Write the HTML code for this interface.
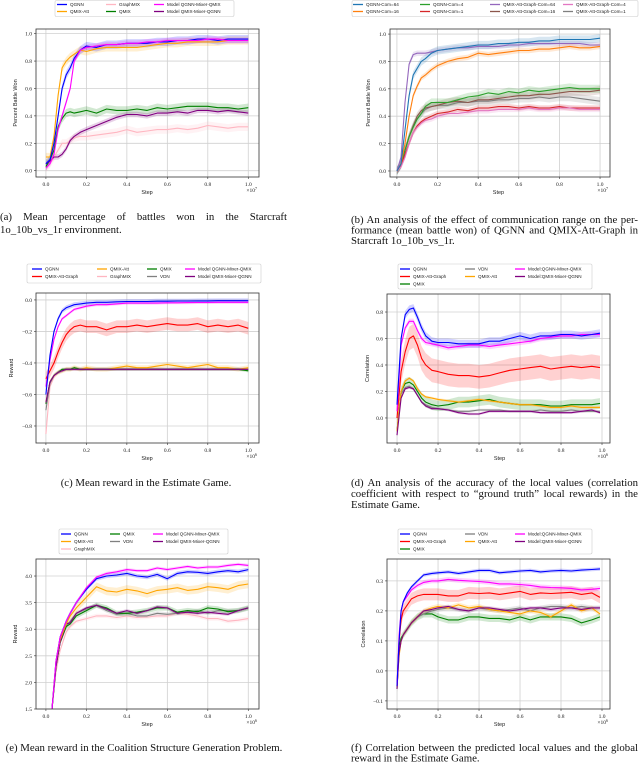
<!DOCTYPE html>
<html><head><meta charset="utf-8"><style>
html,body{margin:0;padding:0;background:#fff;}
svg{display:block;font-family:"Liberation Serif",serif;}
</style></head><body>
<svg id="fig" width="640" height="765" viewBox="0 0 640 765" xmlns="http://www.w3.org/2000/svg"></svg>
<script>
// ---------- DATA ----------
const xA = [0,0.02,0.04,0.06,0.08,0.1,0.12,0.14,0.17,0.2,0.25,0.3,0.35,0.4,0.45,0.5,0.55,0.6,0.65,0.7,0.75,0.8,0.85,0.9,0.95,1.0];
const aQGNN = [0.05,0.08,0.2,0.4,0.6,0.7,0.75,0.82,0.88,0.91,0.9,0.92,0.92,0.93,0.93,0.93,0.94,0.94,0.95,0.95,0.96,0.96,0.95,0.96,0.96,0.96];
const aQMIXAtt = [0.1,0.1,0.25,0.55,0.75,0.8,0.83,0.85,0.88,0.87,0.89,0.9,0.9,0.9,0.9,0.91,0.92,0.93,0.93,0.94,0.94,0.94,0.94,0.95,0.95,0.95];
const aGraphMIX = [0.02,0.05,0.1,0.15,0.2,0.2,0.22,0.24,0.25,0.25,0.26,0.27,0.28,0.3,0.28,0.29,0.3,0.3,0.31,0.3,0.31,0.33,0.32,0.31,0.32,0.32];
const aMixQMIX = [0.02,0.05,0.12,0.3,0.4,0.5,0.6,0.8,0.88,0.9,0.91,0.92,0.92,0.93,0.93,0.94,0.94,0.95,0.95,0.95,0.95,0.96,0.96,0.95,0.95,0.95];
const aQMIX = [0.03,0.08,0.15,0.32,0.38,0.42,0.43,0.42,0.43,0.44,0.42,0.45,0.44,0.44,0.45,0.44,0.46,0.45,0.46,0.47,0.47,0.47,0.46,0.46,0.45,0.46];
const aMixQGNN = [0.05,0.07,0.1,0.1,0.12,0.16,0.22,0.25,0.28,0.3,0.33,0.36,0.39,0.41,0.41,0.4,0.42,0.42,0.43,0.42,0.44,0.44,0.43,0.44,0.43,0.42];

const bCom64 = [0,0.05,0.3,0.55,0.7,0.75,0.8,0.82,0.86,0.88,0.89,0.9,0.91,0.92,0.92,0.93,0.93,0.94,0.94,0.95,0.95,0.96,0.96,0.96,0.96,0.97];
const bCom16 = [0,0.05,0.2,0.4,0.55,0.62,0.68,0.7,0.74,0.77,0.8,0.82,0.83,0.86,0.85,0.86,0.87,0.88,0.88,0.89,0.89,0.9,0.91,0.9,0.9,0.91];
const bCom4 = [0,0.05,0.15,0.25,0.32,0.38,0.42,0.47,0.5,0.5,0.5,0.52,0.54,0.55,0.57,0.56,0.58,0.57,0.59,0.58,0.59,0.6,0.61,0.6,0.6,0.6];
const bCom1 = [0,0.04,0.12,0.2,0.28,0.33,0.36,0.38,0.4,0.42,0.43,0.45,0.44,0.46,0.46,0.47,0.47,0.46,0.47,0.46,0.46,0.47,0.46,0.46,0.46,0.46];
const bAtt64 = [0,0.1,0.5,0.78,0.85,0.86,0.86,0.86,0.87,0.88,0.89,0.9,0.9,0.91,0.91,0.91,0.92,0.92,0.93,0.93,0.93,0.93,0.93,0.93,0.92,0.92];
const bAtt16 = [0,0.05,0.15,0.25,0.33,0.4,0.44,0.46,0.47,0.48,0.5,0.51,0.5,0.52,0.52,0.53,0.54,0.55,0.55,0.56,0.56,0.57,0.58,0.58,0.58,0.59];
const bAtt4 = [0,0.03,0.1,0.2,0.28,0.32,0.35,0.37,0.38,0.4,0.42,0.42,0.43,0.44,0.44,0.45,0.45,0.45,0.46,0.45,0.45,0.46,0.46,0.45,0.45,0.45];
const bAtt1 = [0,0.05,0.15,0.25,0.33,0.38,0.42,0.45,0.47,0.48,0.48,0.5,0.5,0.51,0.51,0.52,0.52,0.53,0.53,0.54,0.53,0.54,0.54,0.53,0.52,0.51];

const cQGNN = [-0.6,-0.35,-0.2,-0.12,-0.07,-0.05,-0.04,-0.03,-0.025,-0.02,-0.015,-0.015,-0.012,-0.01,-0.01,-0.01,-0.008,-0.008,-0.007,-0.007,-0.006,-0.006,-0.005,-0.005,-0.005,-0.005];
const cMixQMIX = [-0.55,-0.38,-0.25,-0.17,-0.12,-0.1,-0.08,-0.06,-0.05,-0.04,-0.03,-0.03,-0.025,-0.02,-0.02,-0.02,-0.02,-0.018,-0.018,-0.017,-0.016,-0.016,-0.015,-0.015,-0.015,-0.015];
const cAttGraph = [-0.5,-0.45,-0.4,-0.33,-0.27,-0.22,-0.19,-0.17,-0.16,-0.17,-0.17,-0.19,-0.17,-0.17,-0.16,-0.17,-0.16,-0.15,-0.16,-0.16,-0.15,-0.17,-0.16,-0.17,-0.16,-0.18];
const cQMIXAtt = [-0.65,-0.52,-0.48,-0.46,-0.45,-0.44,-0.44,-0.43,-0.44,-0.43,-0.44,-0.44,-0.43,-0.42,-0.43,-0.43,-0.42,-0.41,-0.42,-0.43,-0.42,-0.41,-0.43,-0.43,-0.44,-0.43];
const cQMIX = [-0.66,-0.52,-0.48,-0.46,-0.44,-0.44,-0.44,-0.43,-0.44,-0.44,-0.44,-0.44,-0.44,-0.44,-0.44,-0.44,-0.44,-0.44,-0.44,-0.44,-0.44,-0.44,-0.44,-0.44,-0.44,-0.45];
const cVDN = [-0.7,-0.53,-0.48,-0.46,-0.45,-0.44,-0.44,-0.44,-0.44,-0.44,-0.44,-0.44,-0.44,-0.44,-0.44,-0.44,-0.44,-0.44,-0.44,-0.44,-0.44,-0.44,-0.44,-0.44,-0.44,-0.44];
const cGraphMIX = [-0.85,-0.55,-0.49,-0.46,-0.45,-0.44,-0.44,-0.44,-0.44,-0.44,-0.44,-0.44,-0.44,-0.44,-0.44,-0.44,-0.44,-0.44,-0.44,-0.44,-0.44,-0.44,-0.44,-0.44,-0.44,-0.44];
const cMixQGNN = [-0.65,-0.52,-0.48,-0.46,-0.45,-0.44,-0.44,-0.44,-0.44,-0.44,-0.44,-0.44,-0.44,-0.44,-0.44,-0.44,-0.44,-0.44,-0.44,-0.44,-0.44,-0.44,-0.44,-0.44,-0.44,-0.44];

const xD = [0,0.02,0.04,0.06,0.08,0.1,0.12,0.14,0.17,0.2,0.25,0.3,0.35,0.4,0.45,0.5,0.55,0.6,0.65,0.7,0.75,0.8,0.85,0.9,0.95,0.99];
const dQGNN = [0.1,0.6,0.78,0.82,0.83,0.76,0.68,0.62,0.58,0.57,0.57,0.56,0.56,0.56,0.58,0.58,0.6,0.62,0.6,0.62,0.62,0.63,0.63,0.62,0.63,0.64];
const dMixQMIX = [0.05,0.55,0.68,0.73,0.73,0.66,0.6,0.57,0.56,0.55,0.53,0.54,0.55,0.55,0.54,0.55,0.56,0.57,0.58,0.6,0.61,0.62,0.62,0.63,0.63,0.63];
const dAttGraph = [0,0.35,0.5,0.6,0.62,0.55,0.45,0.4,0.36,0.35,0.33,0.32,0.32,0.31,0.32,0.34,0.36,0.37,0.38,0.39,0.37,0.38,0.39,0.38,0.39,0.38];
const dQMIXAtt = [-0.1,0.2,0.28,0.3,0.28,0.22,0.18,0.16,0.15,0.14,0.13,0.12,0.13,0.14,0.13,0.12,0.11,0.1,0.1,0.09,0.08,0.08,0.09,0.08,0.08,0.08];
const dQMIX = [-0.1,0.2,0.26,0.27,0.25,0.2,0.15,0.12,0.1,0.09,0.1,0.12,0.12,0.13,0.14,0.12,0.11,0.1,0.1,0.1,0.09,0.09,0.1,0.1,0.1,0.11];
const dVDN = [-0.1,0.18,0.23,0.24,0.22,0.17,0.12,0.1,0.08,0.07,0.06,0.05,0.05,0.06,0.06,0.06,0.05,0.05,0.05,0.06,0.05,0.05,0.06,0.05,0.05,0.05];
const dMixQGNN = [-0.13,0.15,0.22,0.23,0.22,0.17,0.12,0.09,0.07,0.07,0.06,0.04,0.03,0.03,0.05,0.05,0.05,0.05,0.05,0.04,0.04,0.04,0.04,0.05,0.06,0.04];

const xE = [0.03,0.05,0.07,0.1,0.12,0.15,0.2,0.25,0.3,0.35,0.4,0.45,0.5,0.55,0.6,0.65,0.7,0.75,0.8,0.85,0.9,0.95,1.0];
const eQGNN = [1.5,2.4,2.85,3.15,3.3,3.5,3.75,3.95,4.0,4.02,4.05,4.0,3.98,4.03,3.95,4.05,4.08,4.07,4.05,4.08,4.1,4.08,4.12];
const eMixQMIX = [1.5,2.4,2.85,3.15,3.3,3.5,3.78,3.98,4.05,4.08,4.12,4.1,4.1,4.15,4.12,4.15,4.18,4.15,4.17,4.17,4.2,4.22,4.2];
const eQMIXAtt = [1.5,2.4,2.8,3.1,3.25,3.4,3.6,3.8,3.72,3.7,3.75,3.72,3.67,3.73,3.75,3.78,3.73,3.75,3.8,3.78,3.75,3.82,3.85];
const eQMIX = [1.5,2.3,2.75,3.05,3.1,3.25,3.35,3.45,3.4,3.3,3.3,3.32,3.35,3.4,3.4,3.32,3.35,3.33,3.4,3.38,3.33,3.35,3.4];
const eVDN = [1.5,2.3,2.75,3.05,3.15,3.3,3.38,3.45,3.35,3.28,3.3,3.25,3.25,3.3,3.28,3.3,3.32,3.35,3.3,3.35,3.35,3.35,3.4];
const eMixQGNN = [1.5,2.3,2.75,3.1,3.12,3.3,3.4,3.45,3.38,3.3,3.35,3.3,3.35,3.42,3.4,3.3,3.32,3.3,3.32,3.3,3.28,3.35,3.4];
const eGraphMIX = [1.5,2.2,2.6,2.95,3.05,3.15,3.2,3.25,3.25,3.22,3.25,3.22,3.23,3.25,3.25,3.3,3.28,3.25,3.2,3.2,3.15,3.17,3.2];

const xF = [0,0.01,0.02,0.03,0.05,0.07,0.1,0.13,0.17,0.2,0.25,0.3,0.35,0.4,0.45,0.5,0.55,0.6,0.65,0.7,0.75,0.8,0.85,0.9,0.95,0.99];
const fQGNN = [-0.05,0.1,0.2,0.23,0.26,0.28,0.3,0.32,0.325,0.327,0.33,0.325,0.33,0.335,0.335,0.327,0.33,0.333,0.335,0.33,0.333,0.335,0.333,0.336,0.338,0.34];
const fMixQMIX = [-0.05,0.12,0.2,0.23,0.25,0.27,0.285,0.295,0.3,0.3,0.305,0.302,0.3,0.298,0.295,0.29,0.29,0.288,0.285,0.28,0.278,0.277,0.275,0.27,0.272,0.275];
const fAttGraph = [-0.05,0.1,0.17,0.2,0.22,0.24,0.25,0.255,0.255,0.255,0.25,0.25,0.26,0.258,0.26,0.255,0.26,0.265,0.255,0.26,0.258,0.26,0.262,0.255,0.26,0.245];
const fQMIXAtt = [-0.05,0.05,0.1,0.12,0.14,0.16,0.18,0.2,0.21,0.215,0.21,0.22,0.21,0.215,0.205,0.2,0.195,0.19,0.2,0.195,0.18,0.2,0.22,0.2,0.21,0.19];
const fQMIX = [-0.06,0.08,0.11,0.12,0.14,0.16,0.18,0.19,0.19,0.18,0.17,0.17,0.18,0.18,0.175,0.175,0.17,0.18,0.17,0.18,0.18,0.18,0.175,0.16,0.17,0.18];
const fVDN = [-0.05,0.06,0.1,0.12,0.14,0.16,0.18,0.19,0.2,0.205,0.21,0.205,0.2,0.21,0.205,0.2,0.205,0.21,0.2,0.21,0.215,0.215,0.21,0.215,0.21,0.21];
const fMixQGNN = [-0.06,0.06,0.1,0.12,0.14,0.16,0.18,0.2,0.205,0.21,0.215,0.205,0.2,0.21,0.21,0.205,0.2,0.205,0.21,0.21,0.205,0.21,0.21,0.205,0.21,0.21];

const xTicks = [0,0.2,0.4,0.6,0.8,1.0];
const yTicksA = [0,0.2,0.4,0.6,0.8,1.0];
const yTicksC = [-0.8,-0.6,-0.4,-0.2,0.0];
const yTicksD = [0,0.2,0.4,0.6,0.8];
const yTicksE = [1.5,2.0,2.5,3.0,3.5,4.0];
const yTicksF = [-0.1,0,0.1,0.2,0.3];

// ---------- DRAWING ----------
const NS = "http://www.w3.org/2000/svg";
const svg = document.getElementById('fig');
function mk(tag, attrs, parent){
  const e = document.createElementNS(NS, tag);
  for (const k in attrs) e.setAttribute(k, attrs[k]);
  (parent||svg).appendChild(e);
  return e;
}
function fmt(v){ const s = v.toFixed(1); return v < 0 ? '\u2212' + s.slice(1) : s; }

function chart(id, c){
  const g = mk('g', {});
  
  
  const sx = v => c.L + (v - c.xmin) / (c.xmax - c.xmin) * (c.R - c.L);
  const sy = v => c.B - (v - c.ymin) / (c.ymax - c.ymin) * (c.B - c.T);
  mk('rect', {x:c.L, y:c.T, width:c.R-c.L, height:c.B-c.T, fill:'#fff'}, g);
  c.xticks.forEach(t => {
    const gl = mk('line', {x1:sx(t), x2:sx(t), y1:c.T, y2:c.B, stroke:'#d0d0d0', 'stroke-width':0.8}, g);
    
    
    const tl = mk('text', {x:sx(t), y:c.B+9, 'font-size':5.5, 'text-anchor':'middle', fill:'#222'}, g);
    tl.textContent = fmt(t);
    
    
    mk('line', {x1:sx(t), x2:sx(t), y1:c.B, y2:c.B+2, stroke:'#333', 'stroke-width':0.6}, g);
  });
  c.yticks.forEach(t => {
    const gl = mk('line', {x1:c.L, x2:c.R, y1:sy(t), y2:sy(t), stroke:'#d0d0d0', 'stroke-width':0.8}, g);
    
    
    const tl = mk('text', {x:c.L-4, y:sy(t)+2, 'font-size':5.5, 'text-anchor':'end', fill:'#222'}, g);
    tl.textContent = fmt(t);
    
    
    mk('line', {x1:c.L-2, x2:c.L, y1:sy(t), y2:sy(t), stroke:'#333', 'stroke-width':0.6}, g);
  });
  const clipId = 'clip-' + id;
  const cp = mk('clipPath', {id:clipId}, g);
  mk('rect', {x:c.L, y:c.T, width:c.R-c.L, height:c.B-c.T}, cp);
  const pg = mk('g', {'clip-path':'url(#'+clipId+')'}, g);
  c.series.forEach(s => {
    if (!s.band) return;
    let d = '';
    s.x.forEach((xv,i) => { d += (i?'L':'M') + sx(xv).toFixed(1) + ',' + sy(s.y[i]+s.band).toFixed(1); });
    for (let i = s.x.length-1; i >= 0; i--) d += 'L' + sx(s.x[i]).toFixed(1) + ',' + sy(s.y[i]-s.band).toFixed(1);
    const b = mk('path', {d:d+'Z', fill:s.color, 'fill-opacity':0.18, stroke:'none'}, pg);
    
    
  });
  c.series.forEach(s => {
    let d = '';
    s.x.forEach((xv,i) => { d += (i?'L':'M') + sx(xv).toFixed(1) + ',' + sy(s.y[i]).toFixed(1); });
    const p = mk('path', {d:d, fill:'none', stroke:s.color, 'stroke-width':1.1, 'stroke-linejoin':'round'}, pg);
    
    
  });
  mk('rect', {x:c.L, y:c.T, width:c.R-c.L, height:c.B-c.T, fill:'none', stroke:'#333', 'stroke-width':0.8}, g);
  const xl = mk('text', {x:(sx(0)+sx(1))/2, y:c.B+17, 'font-size':5.5, 'text-anchor':'middle', fill:'#222', 'font-family':'Liberation Sans, sans-serif'}, g);
  xl.textContent = 'Step';
  
  
  const ex = mk('text', {x:c.R-2, y:c.B+15, 'font-size':5.5, 'text-anchor':'end', fill:'#222'}, g);
  ex.innerHTML = '×10<tspan dy="-2" font-size="4">' + c.exp + '</tspan>';
  
  
  const yc = (c.T+c.B)/2;
  const yl = mk('text', {x:c.ylx, y:yc, 'font-size':5.5, 'text-anchor':'middle', fill:'#222', transform:'rotate(-90 '+c.ylx+' '+yc+')', 'font-family':'Liberation Sans, sans-serif'}, g);
  yl.textContent = c.ylabel;
  
  
  const lg = mk('g', {}, g);
  
  
  mk('rect', {x:c.leg.x, y:c.leg.y, width:c.leg.w, height:c.leg.h, rx:1.5, fill:'#fff', stroke:'#ccc', 'stroke-width':0.6}, lg);
  c.series.forEach(s => {
    const lx = c.leg.cols[s.col], ly = c.leg.rows[s.row];
    const ent = mk('g', {}, lg);
    
    
    mk('line', {x1:lx, x2:lx+10, y1:ly, y2:ly, stroke:s.color, 'stroke-width':1.3}, ent);
    const t = mk('text', {x:lx+13, y:ly+1.6, 'font-size':4.6, fill:'#222', 'font-family':'Liberation Sans, sans-serif'}, ent);
    t.textContent = s.name;
  });
}

const BLUE='#0000ff', ORANGE='#ffa500', PINK='#ffb6c1', MAG='#ff00ff', GREEN='#008000', PURP='#800080', RED='#ff0000', GRAY='#808080';

chart('chart-a-battles-won', {L:36,R:259,T:29,B:177,xmin:-0.049,xmax:1.053,ymin:-0.046,ymax:1.034,
  xticks:xTicks, yticks:yTicksA, ylabel:'Percent Battle Won', ylx:17, exp:'7',
  leg:{x:55,y:0.5,w:179,h:16,cols:[57,106,154],rows:[4.5,11.5]},
  series:[
    {name:'GraphMIX',x:xA,y:aGraphMIX,color:PINK,col:1,row:0,band:0.03},
    {name:'QMIX',x:xA,y:aQMIX,color:GREEN,col:1,row:1,band:0.03},
    {name:'Model QMIX-Mixer-QGNN',x:xA,y:aMixQGNN,color:PURP,col:2,row:1,band:0.02},
    {name:'QMIX-Att',x:xA,y:aQMIXAtt,color:ORANGE,col:0,row:1,band:0.03},
    {name:'QGNN',x:xA,y:aQGNN,color:BLUE,col:0,row:0,band:0.03},
    {name:'Model QGNN-Mixer-QMIX',x:xA,y:aMixQMIX,color:MAG,col:2,row:0,band:0.02}
  ]});

chart('chart-b-communication-range', {L:390,R:610,T:29,B:177,xmin:-0.034,xmax:1.049,ymin:-0.044,ymax:1.037,
  xticks:xTicks, yticks:yTicksA, ylabel:'Percent Battle Won', ylx:370, exp:'7',
  leg:{x:352,y:0.5,w:286,h:16,cols:[353,420,490,563],rows:[4.5,11.5]},
  series:[
    {name:'QMIX-Att-Graph-Com=1',x:xA,y:bAtt1,color:'#7f7f7f',col:3,row:1,band:0.03},
    {name:'QMIX-Att-Graph-Com=16',x:xA,y:bAtt16,color:'#8c564b',col:2,row:1,band:0.03},
    {name:'QGNN-Com=4',x:xA,y:bCom4,color:'#2ca02c',col:1,row:0,band:0.03},
    {name:'QGNN-Com=1',x:xA,y:bCom1,color:'#d62728',col:1,row:1,band:0.02},
    {name:'QMIX-Att-Graph-Com=4',x:xA,y:bAtt4,color:'#e377c2',col:3,row:0,band:0.02},
    {name:'QGNN-Com=16',x:xA,y:bCom16,color:'#ff7f0e',col:0,row:1,band:0.02},
    {name:'QMIX-Att-Graph-Com=64',x:xA,y:bAtt64,color:'#9467bd',col:2,row:0,band:0.02},
    {name:'QGNN-Com=64',x:xA,y:bCom64,color:'#1f77b4',col:0,row:0,band:0.03}
  ]});

chart('chart-c-estimate-reward', {L:36,R:259,T:293,B:443,xmin:-0.049,xmax:1.053,ymin:-0.908,ymax:0.044,
  xticks:xTicks, yticks:yTicksC, ylabel:'Reward', ylx:13, exp:'6',
  leg:{x:27,y:264,w:234,h:19,cols:[32,97,147,185],rows:[269,276.5]},
  series:[
    {name:'GraphMIX',x:xA,y:cGraphMIX,color:PINK,col:1,row:1,band:0.01},
    {name:'QMIX-Att',x:xA,y:cQMIXAtt,color:ORANGE,col:1,row:0,band:0.015},
    {name:'QMIX',x:xA,y:cQMIX,color:GREEN,col:2,row:0,band:0.01},
    {name:'VDN',x:xA,y:cVDN,color:GRAY,col:2,row:1,band:0.01},
    {name:'Model QMIX-Mixer-QGNN',x:xA,y:cMixQGNN,color:PURP,col:3,row:1,band:0.01},
    {name:'QMIX-Att-Graph',x:xA,y:cAttGraph,color:RED,col:0,row:1,band:0.04},
    {name:'Model QGNN-Mixer-QMIX',x:xA,y:cMixQMIX,color:MAG,col:3,row:0,band:0.01},
    {name:'QGNN',x:xA,y:cQGNN,color:BLUE,col:0,row:0,band:0.015}
  ]});

chart('chart-d-local-value-accuracy', {L:387,R:610,T:294,B:443,xmin:-0.049,xmax:1.039,ymin:-0.189,ymax:0.936,
  xticks:xTicks, yticks:yTicksD, ylabel:'Correlation', ylx:369, exp:'6',
  leg:{x:398,y:264,w:194,h:25,cols:[400,465,515],rows:[269,276.5,284]},
  series:[
    {name:'QMIX',x:xD,y:dQMIX,color:GREEN,col:0,row:2,band:0.04},
    {name:'VDN',x:xD,y:dVDN,color:GRAY,col:1,row:0,band:0.01},
    {name:'QMIX-Att',x:xD,y:dQMIXAtt,color:ORANGE,col:1,row:1,band:0.01},
    {name:'Model:QMIX-Mixer-QGNN',x:xD,y:dMixQGNN,color:PURP,col:2,row:1,band:0.01},
    {name:'QMIX-Att-Graph',x:xD,y:dAttGraph,color:RED,col:0,row:1,band:0.09},
    {name:'Model:QGNN-Mixer-QMIX',x:xD,y:dMixQMIX,color:MAG,col:2,row:0,band:0.02},
    {name:'QGNN',x:xD,y:dQGNN,color:BLUE,col:0,row:0,band:0.03}
  ]});

chart('chart-e-coalition-reward', {L:36,R:259,T:559,B:709,xmin:-0.049,xmax:1.053,ymin:1.5,ymax:4.32,
  xticks:xTicks, yticks:yTicksE, ylabel:'Reward', ylx:17, exp:'6',
  leg:{x:59,y:529,w:169,h:25,cols:[61,110,153],rows:[534,541.5,549]},
  series:[
    {name:'GraphMIX',x:xE,y:eGraphMIX,color:PINK,col:0,row:2,band:0.04},
    {name:'VDN',x:xE,y:eVDN,color:GRAY,col:1,row:1,band:0.04},
    {name:'QMIX',x:xE,y:eQMIX,color:GREEN,col:1,row:0,band:0.05},
    {name:'Model QMIX-Mixer-QGNN',x:xE,y:eMixQGNN,color:PURP,col:2,row:1,band:0.03},
    {name:'QMIX-Att',x:xE,y:eQMIXAtt,color:ORANGE,col:0,row:1,band:0.08},
    {name:'QGNN',x:xE,y:eQGNN,color:BLUE,col:0,row:0,band:0.04},
    {name:'Model QGNN-Mixer-QMIX',x:xE,y:eMixQMIX,color:MAG,col:2,row:0,band:0.03}
  ]});

chart('chart-f-global-correlation', {L:387,R:610,T:559,B:709,xmin:-0.049,xmax:1.039,ymin:-0.127,ymax:0.373,
  xticks:xTicks, yticks:yTicksF, ylabel:'Correlation', ylx:365, exp:'6',
  leg:{x:398,y:529,w:194,h:25,cols:[400,465,515],rows:[534,541.5,549]},
  series:[
    {name:'QMIX',x:xF,y:fQMIX,color:GREEN,col:0,row:2,band:0.012},
    {name:'VDN',x:xF,y:fVDN,color:GRAY,col:1,row:0,band:0.008},
    {name:'QMIX-Att',x:xF,y:fQMIXAtt,color:ORANGE,col:1,row:1,band:0.008},
    {name:'Model:QMIX-Mixer-QGNN',x:xF,y:fMixQGNN,color:PURP,col:2,row:1,band:0.006},
    {name:'QMIX-Att-Graph',x:xF,y:fAttGraph,color:RED,col:0,row:1,band:0.02},
    {name:'Model:QGNN-Mixer-QMIX',x:xF,y:fMixQMIX,color:MAG,col:2,row:0,band:0.008},
    {name:'QGNN',x:xF,y:fQGNN,color:BLUE,col:0,row:0,band:0.006}
  ]});

// captions (justified via word-spacing)
function cap(name, lines){
  const g = mk('g', {});
  
  
  lines.forEach(l => {
    const a = {x:l.x, y:l.y, 'font-size':10.8, fill:'#111'};
    if (l.mid) a['text-anchor'] = 'middle';
    const t = mk('text', a, g);
    t.textContent = l.t;
    if (l.w) {
      const nat = t.getComputedTextLength();
      const sp = (l.t.match(/ /g) || []).length;
      if (sp && l.w > nat) t.setAttribute('word-spacing', ((l.w - nat) / sp).toFixed(2));
      else if (l.w < nat) { t.setAttribute('textLength', l.w); t.setAttribute('lengthAdjust', 'spacingAndGlyphs'); }
    }
  });
}
cap('caption-a', [
  {x:0,y:220,w:287,t:'(a) Mean percentage of battles won in the Starcraft'},
  {x:0,y:233,t:'1o_10b_vs_1r environment.'}]);
cap('caption-b', [
  {x:351,y:223,w:287,t:'(b) An analysis of the effect of communication range on the per-'},
  {x:351,y:233.5,w:287,t:'formance (mean battle won) of QGNN and QMIX-Att-Graph in'},
  {x:351,y:244,t:'Starcraft 1o_10b_vs_1r.'}]);
cap('caption-c', [{x:146,y:486,mid:true,t:'(c) Mean reward in the Estimate Game.'}]);
cap('caption-d', [
  {x:351,y:486,w:287,t:'(d) An analysis of the accuracy of the local values (correlation'},
  {x:351,y:497,w:287,t:'coefficient with respect to \u201Cground truth\u201D local rewards) in the'},
  {x:351,y:508,t:'Estimate Game.'}]);
cap('caption-e', [{x:144,y:751,mid:true,t:'(e) Mean reward in the Coalition Structure Generation Problem.'}]);
cap('caption-f', [
  {x:351,y:751,w:287,t:'(f) Correlation between the predicted local values and the global'},
  {x:351,y:761.5,t:'reward in the Estimate Game.'}]);
</script>
</body></html>
